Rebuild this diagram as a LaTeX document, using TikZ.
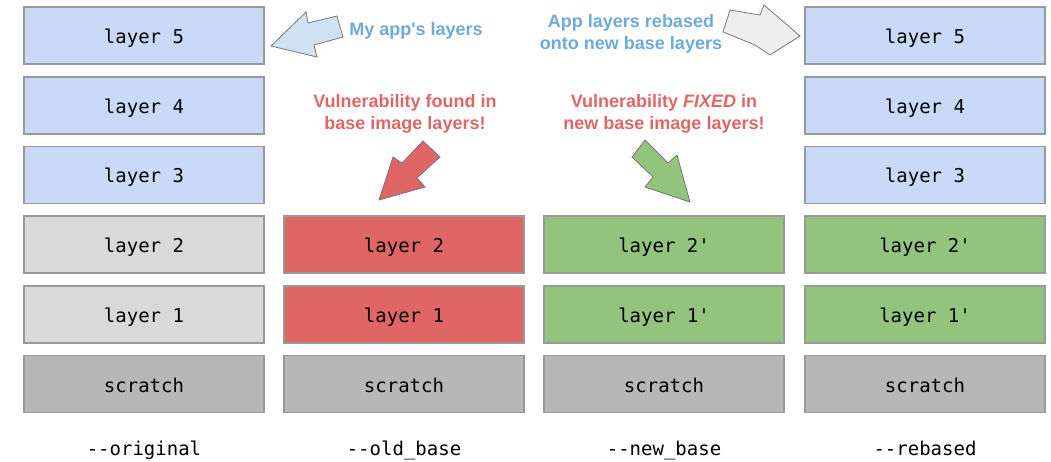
\documentclass[tikz,border=0pt]{standalone}
\usepackage{fontspec}
\setmainfont{Liberation Sans}
\setmonofont{DejaVu Sans Mono}
\definecolor{appblue}{HTML}{C9DAF8}
\definecolor{lightgray}{HTML}{D9D9D9}
\definecolor{darkgray}{HTML}{B7B7B7}
\definecolor{vulnred}{HTML}{E06666}
\definecolor{fixgreen}{HTML}{93C47D}
\definecolor{txtblue}{HTML}{6FA8DC}
\definecolor{txtred}{HTML}{E06666}
\definecolor{bordergray}{HTML}{999999}
\definecolor{arrowblue}{HTML}{CFE2F3}
\definecolor{arrowgray}{HTML}{EEEEEE}
\definecolor{arrowedge}{HTML}{777777}
\begin{document}
\begin{tikzpicture}[x=1pt,y=-1pt,
  layerbox/.style={draw=bordergray,line width=1.3pt,minimum width=240pt,minimum height=57pt,inner sep=0pt,text height=20pt,text depth=4.5pt,font=\ttfamily\fontsize{19}{19}\selectfont},
  blue/.style={layerbox,fill=appblue},
  lgray/.style={layerbox,fill=lightgray},
  dgray/.style={layerbox,fill=darkgray,text height=21pt},
  redbox/.style={layerbox,fill=vulnred},
  greenbox/.style={layerbox,fill=fixgreen},
  colname/.style={inner sep=0pt,text height=20pt,text depth=4.5pt,font=\ttfamily\fontsize{19}{19}\selectfont},
  note/.style={font=\bfseries\fontsize{18}{22}\selectfont,align=center},
  blockarrow/.style={draw=arrowedge,line width=0.8pt,line join=miter}
]
\useasboundingbox (0,0) rectangle (1051,461);
% rows y centers
\def\ya{35.5}\def\yb{105.5}\def\yc{175}\def\yd{244.5}\def\ye{314.5}\def\yf{384}
% column 1: original
\node[blue]  (o5) at (144,\ya) {layer 5};
\node[blue]  (o4) at (144,\yb) {layer 4};
\node[blue]  (o3) at (144,\yc) {layer 3};
\node[lgray] (o2) at (144,\yd) {layer 2};
\node[lgray] (o1) at (144,\ye) {layer 1};
\node[dgray] (os) at (144,\yf) {scratch};
\node[colname] (oname) at (144,448) {--original};
% column 2: old base
\node[redbox] (b2) at (404,\yd) {layer 2};
\node[redbox] (b1) at (404,\ye) {layer 1};
\node[dgray]  (bs) at (404,\yf) {scratch};
\node[colname] (bname) at (404,448) {--old\_base};
% column 3: new base
\node[greenbox] (n2) at (664,\yd) {layer 2'};
\node[greenbox] (n1) at (664,\ye) {layer 1'};
\node[dgray]    (ns) at (664,\yf) {scratch};
\node[colname] (nname) at (664,448) {--new\_base};
% column 4: rebased
\node[blue]     (r5) at (925,\ya) {layer 5};
\node[blue]     (r4) at (925,\yb) {layer 4};
\node[blue]     (r3) at (925,\yc) {layer 3};
\node[greenbox] (r2) at (925,\yd) {layer 2'};
\node[greenbox] (r1) at (925,\ye) {layer 1'};
\node[dgray]    (rs) at (925,\yf) {scratch};
\node[colname] (rname) at (925,448) {--rebased};
% notes
\node[note,text=txtblue] (appnote) at (416,31) {My app\textquotesingle s layers};
\node[note,text=txtblue] (rebnote) at (631,34) {App layers rebased\\onto new base layers};
\node[note,text=txtred] (vulnote) at (405,114) {Vulnerability found in\\base image layers!};
\node[note,text=txtred] (fixnote) at (664,114) {Vulnerability \textit{FIXED} in\\new base image layers!};
% block arrows
\draw[blockarrow,fill=arrowblue] (271,46) -- (306,12) -- (308,23) -- (337,16) -- (343,37) -- (314,45) -- (317,57) -- cycle;
\draw[blockarrow,fill=arrowgray] (800,36) -- (764,5) -- (760,15) -- (730,10) -- (723,32) -- (755,45) -- (770,55) -- cycle;
\draw[blockarrow,fill=vulnred] (379,200) -- (393,157) -- (402,163) -- (423,141) -- (440,157) -- (417,178) -- (425,187) -- cycle;
\draw[blockarrow,fill=fixgreen] (690,202) -- (677,155) -- (668,163) -- (645,140) -- (632,157) -- (653,177) -- (645,187) -- cycle;
\end{tikzpicture}
\end{document}
